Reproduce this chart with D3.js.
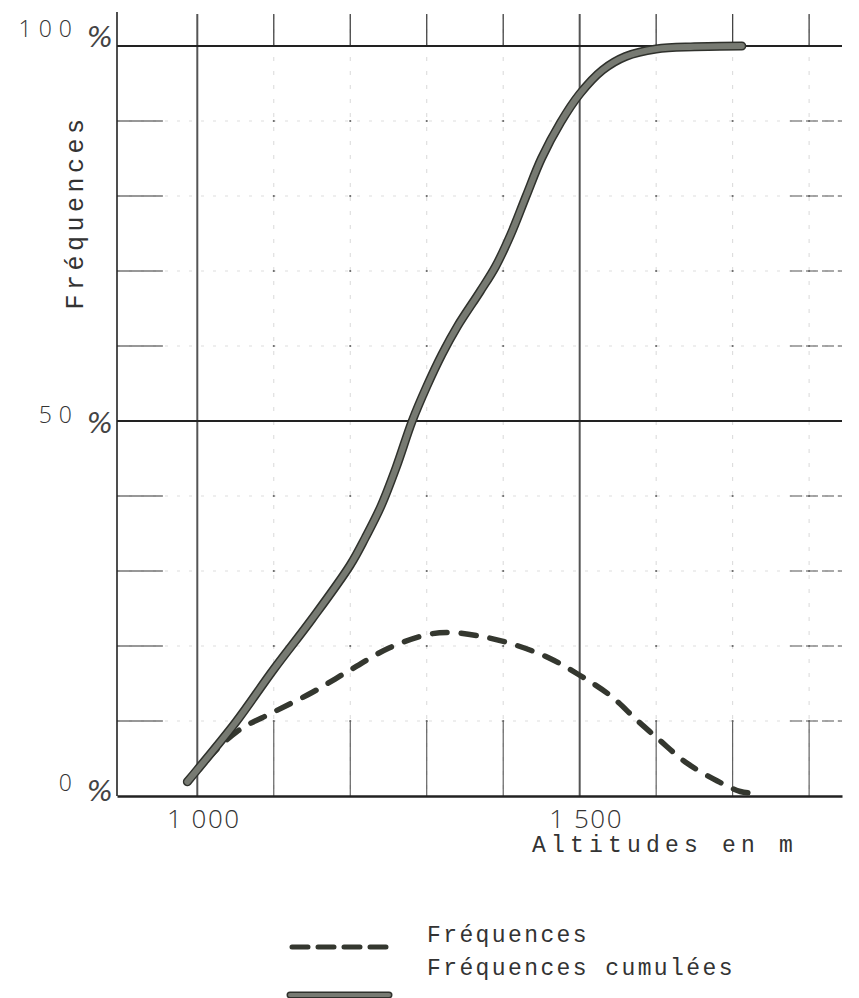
<!DOCTYPE html>
<html>
<head>
<meta charset="utf-8">
<script src="https://cdn.jsdelivr.net/npm/d3@7"></script>
<style>
  body { margin: 0; background: #fff; }
  svg { display: block; }
</style>
</head>
<body>
<svg id="chart" width="859" height="998"></svg>
<script>
// Cumulative frequency curve (altitude in m, cumulative %)
const cumAltitudes = [987, 1000, 1050, 1100, 1150, 1200, 1220, 1240, 1260, 1281, 1300, 1320, 1340, 1370, 1390, 1410, 1430, 1450, 1475, 1500, 1530, 1560, 1600, 1650, 1712];
const cumValues    = [1.9, 3.5, 9.8, 16.9, 23.6, 30.8, 34.5, 38.6, 43.8, 50.0, 54.6, 58.9, 62.6, 67.3, 70.6, 74.9, 80.0, 85.0, 89.8, 93.6, 96.8, 98.6, 99.6, 99.9, 100];

// Frequency curve (altitude in m, %)
const freqAltitudes = [987, 1000, 1052, 1100, 1150, 1200, 1250, 1300, 1330, 1380, 1420, 1460, 1500, 1540, 1575, 1605, 1640, 1680, 1710, 1726];
const freqValues    = [1.9, 3.5, 8.6, 11.2, 13.8, 16.8, 19.7, 21.5, 21.8, 21.1, 20.0, 18.4, 16.1, 13.4, 10.1, 7.4, 4.4, 2.0, 0.6, 0.4];

// Grid and tick definitions
const xGridValues  = [1000, 1100, 1200, 1300, 1400, 1500, 1600, 1700, 1800];
const xMajorValues = [1000, 1500];
const xTickLabels  = ["1 000", "1 500"];
const yGridValues  = [10, 20, 30, 40, 60, 70, 80, 90];
const yMajorValues = [50, 100];
const yTickValues  = [0, 50, 100];
const yTickLabels  = ["0", "50", "100"];

const svg = d3.select("#chart");

const x = d3.scaleLinear().domain([895, 1843]).range([117, 842]);
const y = d3.scaleLinear().domain([0, 100]).range([796, 46]);

const ink = "#222";
const gridG = svg.append("g");

// faint minor grid, horizontal
gridG.selectAll("line.hmin").data(yGridValues).join("line")
  .attr("x1", x(895)).attr("x2", x(1843))
  .attr("y1", d => y(d)).attr("y2", d => y(d))
  .attr("stroke", "#d4d4d4").attr("stroke-width", 0.8)
  .attr("stroke-dasharray", "3,9");
// darker stubs at both ends of minor horizontals
gridG.selectAll("line.hstubL").data(yGridValues).join("line")
  .attr("x1", x(895)).attr("x2", x(955))
  .attr("y1", d => y(d)).attr("y2", d => y(d))
  .attr("stroke", "#333").attr("stroke-width", 1.2);
gridG.selectAll("line.hstubR").data(yGridValues).join("line")
  .attr("x1", x(1775)).attr("x2", x(1843))
  .attr("y1", d => y(d)).attr("y2", d => y(d))
  .attr("stroke", "#555").attr("stroke-width", 1.1)
  .attr("stroke-dasharray", "12,4");

// faint minor grid, vertical
const xMinor = xGridValues.filter(v => !xMajorValues.includes(v));
gridG.selectAll("line.vmin").data(xMinor).join("line")
  .attr("x1", d => x(d)).attr("x2", d => x(d))
  .attr("y1", 15).attr("y2", y(0))
  .attr("stroke", "#cfcfcf").attr("stroke-width", 0.8)
  .attr("stroke-dasharray", "4,10");
gridG.selectAll("line.vtop").data(xMinor).join("line")
  .attr("x1", d => x(d)).attr("x2", d => x(d))
  .attr("y1", 14).attr("y2", y(100))
  .attr("stroke", "#444").attr("stroke-width", 1.3);
gridG.selectAll("line.vbot").data(xMinor).join("line")
  .attr("x1", d => x(d)).attr("x2", d => x(d))
  .attr("y1", y(10)).attr("y2", y(0))
  .attr("stroke", "#555").attr("stroke-width", 1.1);

// small dots at minor intersections
const inter = [];
xMinor.forEach(a => yGridValues.forEach(b => inter.push([a, b])));
gridG.selectAll("circle.dot").data(inter).join("circle")
  .attr("cx", d => x(d[0])).attr("cy", d => y(d[1])).attr("r", 1.1)
  .attr("fill", "#666");

// major verticals at 1000 and 1500 m
gridG.selectAll("line.vmaj").data(xMajorValues).join("line")
  .attr("x1", d => x(d)).attr("x2", d => x(d))
  .attr("y1", 14).attr("y2", y(0))
  .attr("stroke", "#555").attr("stroke-width", 2);

// major horizontals at 50 % and 100 %
gridG.selectAll("line.hmaj").data(yMajorValues).join("line")
  .attr("x1", x(895)).attr("x2", x(1843))
  .attr("y1", d => y(d)).attr("y2", d => y(d))
  .attr("stroke", ink).attr("stroke-width", 2);

// axes
const xAxis = d3.axisBottom(x).tickValues(xMajorValues)
  .tickFormat((d, i) => xTickLabels[i]).tickSize(0).tickPadding(14);
const xAxisG = svg.append("g").attr("transform", `translate(0,${y(0)})`).call(xAxis);
xAxisG.select(".domain").attr("stroke", ink).attr("stroke-width", 2.5);
xAxisG.selectAll("text")
  .attr("dx", 6)
  .attr("font-family", "'Open Sans', sans-serif").attr("font-weight", 300)
  .attr("font-size", 26).attr("letter-spacing", 1.5).attr("fill", "#333");

const yLabelShift = { 0: -6, 50: 1, 100: -10 };
const yAxis = d3.axisLeft(y).tickValues(yTickValues)
  .tickFormat((d, i) => yTickLabels[i]).tickSize(0).tickPadding(0);
const yAxisG = svg.append("g").attr("transform", `translate(${x(895)},0)`).call(yAxis);
yAxisG.select(".domain").remove();
yAxisG.append("line").attr("x1", 0).attr("x2", 0).attr("y1", 12).attr("y2", y(0))
  .attr("stroke", ink).attr("stroke-width", 1.6);
yAxisG.selectAll(".tick text")
  .attr("x", -38).attr("dy", d => yLabelShift[d])
  .attr("font-family", "'Open Sans', sans-serif").attr("font-weight", 300)
  .attr("font-size", 23).attr("letter-spacing", 7).attr("fill", "#333");
yAxisG.selectAll(".tick").append("text")
  .text("%")
  .attr("x", -4).attr("y", d => yLabelShift[d] + 10)
  .attr("text-anchor", "end")
  .attr("font-family", "'DejaVu Sans', sans-serif").attr("font-style", "italic")
  .attr("font-weight", 200)
  .attr("font-size", 28).attr("fill", "#444");

// curves
const freqData = freqAltitudes.map((a, i) => [a, freqValues[i]]);
const cumData = cumAltitudes.map((a, i) => [a, cumValues[i]]);

const freqLine = d3.line().x(d => x(d[0])).y(d => y(d[1])).curve(d3.curveCatmullRom.alpha(0.5));
const cumLine = d3.line().x(d => x(d[0])).y(d => y(d[1])).curve(d3.curveCatmullRom.alpha(0.5));

svg.append("path").datum(freqData).attr("d", freqLine)
  .attr("fill", "none").attr("stroke", "#34372f").attr("stroke-width", 5.5)
  .attr("stroke-linecap", "round").attr("stroke-dasharray", "15,14");

svg.append("path").datum(cumData).attr("d", cumLine)
  .attr("fill", "none").attr("stroke", "#2f312c").attr("stroke-width", 9)
  .attr("stroke-linecap", "round").attr("stroke-linejoin", "round");
svg.append("path").datum(cumData).attr("d", cumLine)
  .attr("fill", "none").attr("stroke", "#777a72").attr("stroke-width", 6)
  .attr("stroke-linecap", "round").attr("stroke-linejoin", "round");

// axis titles
const mono = "'Liberation Mono', 'DejaVu Sans Mono', monospace";
svg.append("text").text("Altitudes en m")
  .attr("x", 532).attr("y", 852)
  .attr("font-family", mono).attr("font-size", 23).attr("letter-spacing", 5.2)
  .attr("fill", "#333");

svg.append("text").text("Fréquences")
  .attr("transform", "translate(83,212) rotate(-90)")
  .attr("text-anchor", "middle")
  .attr("font-family", mono).attr("font-size", 25).attr("letter-spacing", 4.5)
  .attr("fill", "#333");

// legend
const legend = svg.append("g");
legend.append("line").attr("x1", 292).attr("x2", 387).attr("y1", 947).attr("y2", 947)
  .attr("stroke", "#34372f").attr("stroke-width", 5).attr("stroke-linecap", "round")
  .attr("stroke-dasharray", "16,10");
legend.append("line").attr("x1", 290).attr("x2", 389).attr("y1", 995).attr("y2", 995)
  .attr("stroke", "#2f312c").attr("stroke-width", 7).attr("stroke-linecap", "round");
legend.append("line").attr("x1", 290).attr("x2", 389).attr("y1", 995).attr("y2", 995)
  .attr("stroke", "#777a72").attr("stroke-width", 4).attr("stroke-linecap", "round");
legend.append("text").text("Fréquences")
  .attr("x", 427).attr("y", 942)
  .attr("font-family", mono).attr("font-size", 23).attr("letter-spacing", 2.4)
  .attr("fill", "#333");
legend.append("text").text("Fréquences cumulées")
  .attr("x", 427).attr("y", 975)
  .attr("font-family", mono).attr("font-size", 23).attr("letter-spacing", 2.4)
  .attr("fill", "#333");
</script>
</body>
</html>
